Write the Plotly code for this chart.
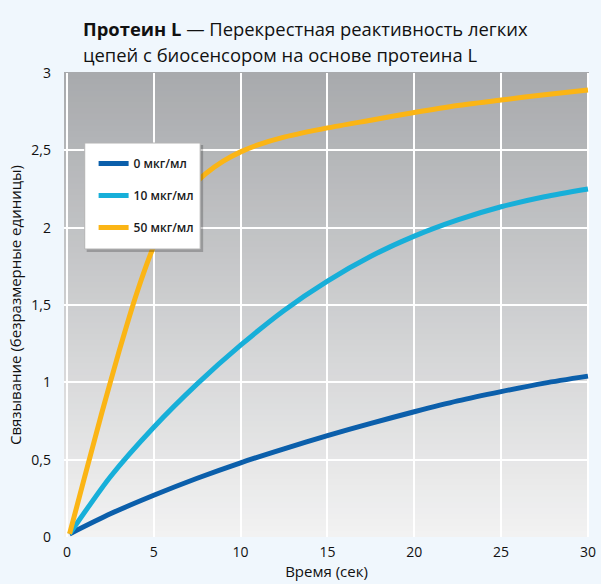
import plotly.graph_objects as go

# Binding response (dimensionless) over time for each light-chain concentration
time_a = [0.15, 2.5, 5, 7.5, 10, 12.5, 15, 17.5, 20, 22.5, 25, 27.5, 30]
conc_0 = [0.02, 0.15, 0.27, 0.38, 0.48, 0.57, 0.655, 0.735, 0.81, 0.88, 0.94, 0.995, 1.04]
conc_10 = [0.02, 0.39, 0.71, 0.99, 1.24, 1.465, 1.655, 1.815, 1.945, 2.05, 2.135, 2.20, 2.25]

time_b = [0.15, 1, 2, 3, 4, 5, 6, 7, 8, 9, 10, 11, 12.5, 15, 17.5, 20, 22.5, 25, 27.5, 30]
conc_50 = [0.02, 0.38, 0.80, 1.20, 1.57, 1.88, 2.10, 2.245, 2.35, 2.43, 2.49, 2.535,
           2.585, 2.645, 2.695, 2.745, 2.79, 2.825, 2.86, 2.89]

series_names = ["0 мкг/мл", "10 мкг/мл", "50 мкг/мл"]
series_x = [time_a, time_a, time_b]
series_values = [conc_0, conc_10, conc_50]
series_colors = ["#0b5fab", "#17afd9", "#fbb515"]

x_ticks = [0, 5, 10, 15, 20, 25, 30]
y_ticks = [0, 0.5, 1, 1.5, 2, 2.5, 3]

# Plot area in pixels (used to place the paper-anchored decorations)
W, H = 601, 584
ML, MR, MT, MB = 64, 5, 73, 47
PW, PH = W - ML - MR, H - MT - MB


def px_x(p):
    return (p - ML) / PW


def px_y(p):
    return 1 - (p - MT) / PH


fig = go.Figure()
for i, (name, xs, vals, col) in enumerate(zip(series_names, series_x, series_values, series_colors)):
    fig.add_trace(go.Scatter(
        x=xs, y=vals, name=name, mode="lines",
        line=dict(color=col, width=5, shape="spline", smoothing=0.7),
        legendgroup=f"g{i}",
    ))

# Vertical grey gradient behind the plotting area
n_bands = 80
top_rgb = (168, 170, 173)
bot_rgb = (242, 242, 242)
shapes = []
for k in range(n_bands):
    t = k / (n_bands - 1)
    r = round(bot_rgb[0] + (top_rgb[0] - bot_rgb[0]) * t)
    g = round(bot_rgb[1] + (top_rgb[1] - bot_rgb[1]) * t)
    b = round(bot_rgb[2] + (top_rgb[2] - bot_rgb[2]) * t)
    shapes.append(dict(
        type="rect", xref="x domain", yref="y domain",
        x0=0, x1=1, y0=k / n_bands, y1=(k + 1) / n_bands + 0.002,
        fillcolor=f"rgb({r},{g},{b})", line=dict(width=0), layer="below",
    ))

# Legend panel with a soft drop shadow
box_l, box_r, box_t, box_b = 85, 202, 143, 249
shapes.append(dict(
    type="rect", xref="paper", yref="paper",
    x0=px_x(box_l + 2), x1=px_x(box_r + 3), y0=px_y(box_b + 3), y1=px_y(box_t + 2),
    fillcolor="rgba(0,0,0,0.22)", line=dict(width=0), layer="above",
))
shapes.append(dict(
    type="rect", xref="paper", yref="paper",
    x0=px_x(box_l), x1=px_x(box_r), y0=px_y(box_b), y1=px_y(box_t),
    fillcolor="#ffffff", line=dict(color="#b4b4b4", width=1), layer="above",
))

font_family = "Open Sans, Noto Sans, sans-serif"

fig.update_layout(
    width=W, height=H,
    margin=dict(l=ML, r=MR, t=MT, b=MB),
    paper_bgcolor="#f0f7fd",
    plot_bgcolor="#f2f2f2",
    separators=", ",
    font=dict(family=font_family, size=14, color="#111111"),
    shapes=shapes,
    showlegend=True,
    legend=dict(
        x=px_x(94), y=px_y(149), xanchor="left", yanchor="top",
        bgcolor="rgba(0,0,0,0)", borderwidth=0,
        font=dict(size=12, color="#1a1a1a", weight=600),
        traceorder="grouped", tracegroupgap=13,
        itemwidth=30,
    ),
    annotations=[
        dict(text="<b>Протеин L</b> — Перекрестная реактивность легких",
             xref="paper", yref="paper", x=px_x(81), y=px_y(14),
             xanchor="left", yanchor="top", showarrow=False,
             font=dict(size=18.4, color="#111111")),
        dict(text="цепей с биосенсором на основе протеина L",
             xref="paper", yref="paper", x=px_x(81), y=px_y(40),
             xanchor="left", yanchor="top", showarrow=False,
             font=dict(size=18.4, color="#111111")),
    ],
)

fig.update_xaxes(
    range=[-0.17, 30.06], tickvals=x_ticks, ticktext=[str(v) for v in x_ticks],
    showgrid=True, gridcolor="#ffffff", gridwidth=1.5,
    zeroline=False, showline=False, ticks="", ticklabelstandoff=5,
    ticklabeloverflow="allow",
    title=dict(text="Время (сек)", font=dict(size=15), standoff=4),
)
fig.update_yaxes(
    range=[0, 3], tickvals=y_ticks,
    ticktext=[("%g" % v).replace(".", ",") for v in y_ticks],
    showgrid=True, gridcolor="#ffffff", gridwidth=1.5,
    zeroline=False, showline=False, ticks="", ticklabelstandoff=12,
    title=dict(text="Связывание (безразмерные единицы)", font=dict(size=15), standoff=6),
)

fig.write_html("out.html")
